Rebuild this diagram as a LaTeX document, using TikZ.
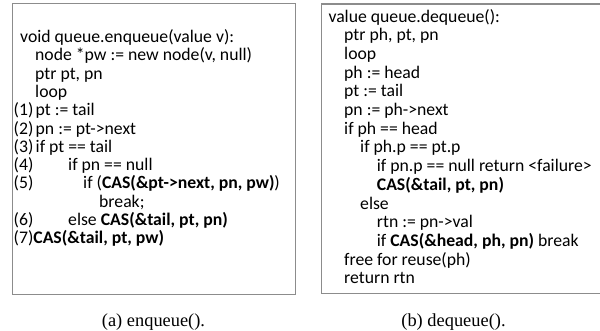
\documentclass[tikz,border=0pt]{standalone}
\usepackage{fontspec}
\setmainfont{Liberation Serif}
\newfontfamily\codefont{Carlito}
\definecolor{boxgray}{RGB}{140,140,140}
\begin{document}
\begin{tikzpicture}[x=1pt,y=-1pt,
  code/.style={anchor=base west, inner sep=0pt, font=\codefont\fontsize{17.7}{20}\selectfont},
  box/.style={draw=boxgray, line width=1.3pt},
  captext/.style={anchor=base, inner sep=0pt, font=\fontsize{18.4}{20}\selectfont}]
\useasboundingbox (0,0) rectangle (600,331);
% boxes
\draw[box] (12.7,3.5) rectangle (295.3,294.8);
\draw[box] (321.5,4) rectangle (610,293.8);
% left code
\node[code] (l0) at (20,42.6) {void queue.enqueue(value v):};
\node[code] (l1) at (35,60.9) {node *pw := new node(v, null)};
\node[code] (l2) at (35,79.2) {ptr pt, pn};
\node[code] (l3) at (35,97.5) {loop};
\node[code] (n1) at (13.5,115.8) {(1)};
\node[code] (l4) at (35.5,115.8) {pt := tail};
\node[code] (n2) at (13.5,134.1) {(2)};
\node[code] (l5) at (35.5,134.1) {pn := pt->next};
\node[code] (n3) at (13.5,152.4) {(3)};
\node[code] (l6) at (35.5,152.4) {if pt == tail};
\node[code] (n4) at (13.5,170.7) {(4)};
\node[code] (l7) at (68,170.7) {if pn == null};
\node[code] (n5) at (13.5,189.0) {(5)};
\node[code] (l8) at (83,189.0) {if (\textbf{CAS(\&pt->next, pn, pw)})};
\node[code] (l9) at (99,207.3) {break;};
\node[code] (n6) at (13.5,225.6) {(6)};
\node[code] (l10) at (68,225.6) {else \textbf{CAS(\&tail, pt, pn)}};
\node[code] (l11) at (13.5,243.9) {(7)\textbf{CAS(\&tail, pt, pw)}};
% right code
\node[code] (r0) at (328.3,22.1) {value queue.dequeue():};
\node[code] (r1) at (344,40.8) {ptr ph, pt, pn};
\node[code] (r2) at (344,59.5) {loop};
\node[code] (r3) at (344,78.2) {ph := head};
\node[code] (r4) at (344,96.9) {pt := tail};
\node[code] (r5) at (344,115.6) {pn := ph->next};
\node[code] (r6) at (344,134.3) {if ph == head};
\node[code] (r7) at (360,153.0) {if ph.p == pt.p};
\node[code] (r8) at (376.7,171.7) {if pn.p == null return <failure>};
\node[code] (r9) at (376.7,190.4) {\textbf{CAS(\&tail, pt, pn)}};
\node[code] (r10) at (360,209.1) {else};
\node[code] (r11) at (376.7,227.8) {rtn := pn->val};
\node[code] (r12) at (376.7,246.5) {if \textbf{CAS(\&head, ph, pn)} break};
\node[code] (r13) at (344,265.2) {free for reuse(ph)};
\node[code] (r14) at (344,283.9) {return rtn};
% captions
\node[captext] (ca) at (153.5,326) {(a) enqueue().};
\node[captext] (cb) at (453.5,326) {(b) dequeue().};
\end{tikzpicture}
\end{document}
